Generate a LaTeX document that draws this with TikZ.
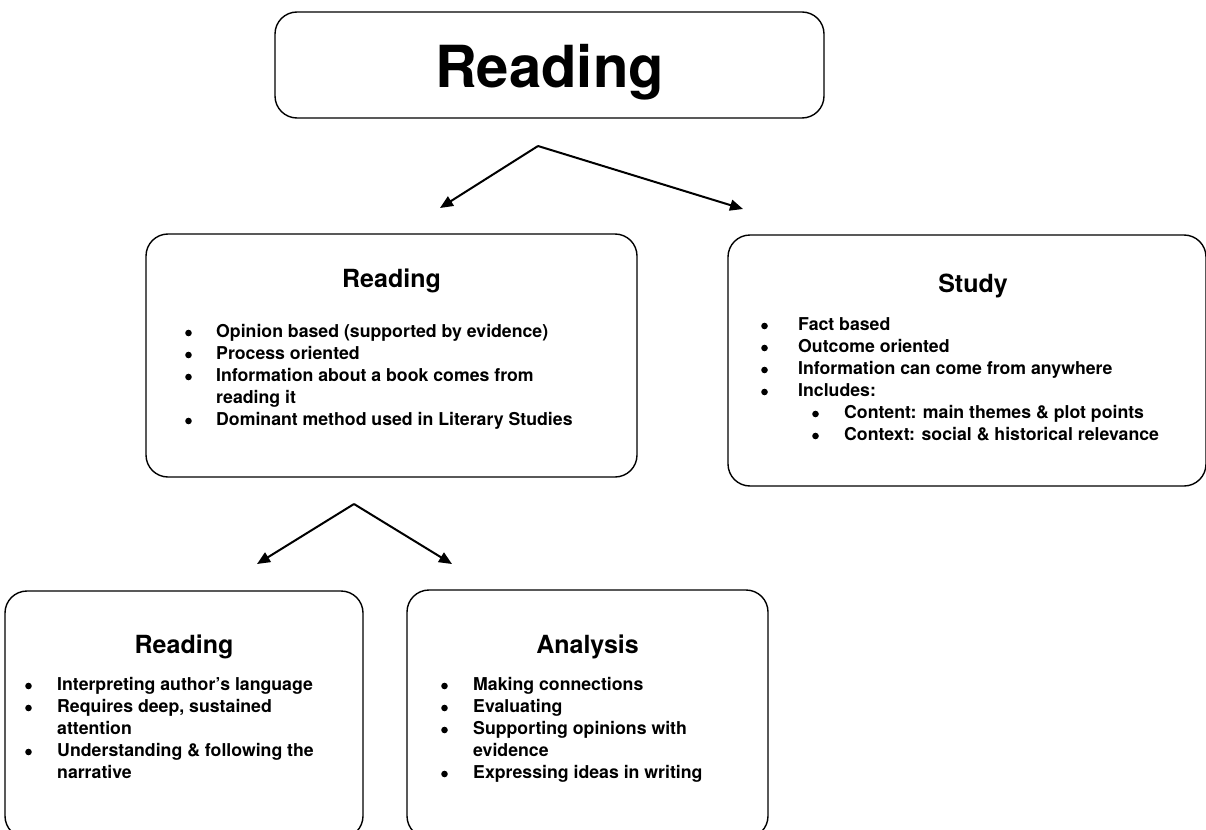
\documentclass[tikz,border=0pt]{standalone}
\usepackage{fontspec}
\setmainfont{TeX Gyre Heros}
\usetikzlibrary{arrows.meta}
% solid round list marker, sitting a little above the baseline
\newcommand{\bul}{\tikz[baseline=0pt]\fill (3.3pt,4pt) circle (3.3pt);}
\tikzset{
  box/.style={draw=black, line width=1.4pt, rounded corners=22pt, fill=white, inner sep=0pt},
  bigtitle/.style={anchor=base, inner sep=0pt, font=\fontsize{58}{64}\selectfont\bfseries},
  title/.style={anchor=base, inner sep=0pt, font=\fontsize{25}{30}\selectfont\bfseries},
  items/.style={anchor=base west, inner sep=0pt, font=\fontsize{17.7}{22}\selectfont\bfseries},
  arr/.style={line width=2pt, -{Triangle[length=13pt,width=11pt]}},
}
\begin{document}
\begin{tikzpicture}[x=1pt,y=-1pt]
\useasboundingbox (0,0) rectangle (1206,829);
\clip (0,0) rectangle (1206,829);

% boxes
\node[box, minimum width=549pt, minimum height=106pt] (top) at (549.5,65) {};
\node[box, minimum width=491pt, minimum height=243pt] (readbox) at (391.5,355.5) {};
\node[box, minimum width=478pt, minimum height=251pt] (studybox) at (967,360.5) {};
\node[box, minimum width=358pt, minimum height=247pt] (closebox) at (184,714.5) {};
\node[box, minimum width=361pt, minimum height=248pt] (analysisbox) at (587.5,714) {};

% headings
\node[bigtitle] (toptitle) at (549.5,88) {Reading};
\node[title] (readtitle) at (391.5,287) {Reading};
\node[title] (studytitle) at (973,292) {Study};
\node[title] (closetitle) at (184,653) {Reading};
\node[title] (analysistitle) at (587.5,653) {Analysis};

% bullet lists
\node[items] (readlist) at (185,337) {%
  \begin{tabular}[t]{@{}p{31pt}@{}l@{}}
  \bul & Opinion based (supported by evidence)\\
  \bul & Process oriented\\
  \bul & Information about a book comes from\\
       & reading it\\
  \bul & Dominant method used in Literary Studies
  \end{tabular}};
\node[items] (studylist) at (761,330) {%
  \begin{tabular}[t]{@{}p{37pt}@{}l@{}}
  \bul & Fact based\\
  \bul & Outcome oriented\\
  \bul & Information can come from anywhere\\
  \bul & Includes:\\
       & \hspace{14pt}\makebox[32pt][l]{\bul}Content: main themes \& plot points\\
       & \hspace{14pt}\makebox[32pt][l]{\bul}Context: social \& historical relevance
  \end{tabular}};
\node[items] (closelist) at (25,690) {%
  \begin{tabular}[t]{@{}p{32pt}@{}l@{}}
  \bul & Interpreting author’s language\\
  \bul & Requires deep, sustained\\
       & attention\\
  \bul & Understanding \& following the\\
       & narrative
  \end{tabular}};
\node[items] (analysislist) at (441,690) {%
  \begin{tabular}[t]{@{}p{32pt}@{}l@{}}
  \bul & Making connections\\
  \bul & Evaluating\\
  \bul & Supporting opinions with\\
       & evidence\\
  \bul & Expressing ideas in writing
  \end{tabular}};

% branching arrows
\coordinate (forkA) at (538,146);
\coordinate (tipAL) at (440,208);
\coordinate (tipAR) at (743,209);
\coordinate (forkB) at (354,504);
\coordinate (tipBL) at (257,564);
\coordinate (tipBR) at (452,564);
\draw[arr] (forkA) -- (tipAL);
\draw[arr] (forkA) -- (tipAR);
\draw[arr] (forkB) -- (tipBL);
\draw[arr] (forkB) -- (tipBR);
\end{tikzpicture}
\end{document}
